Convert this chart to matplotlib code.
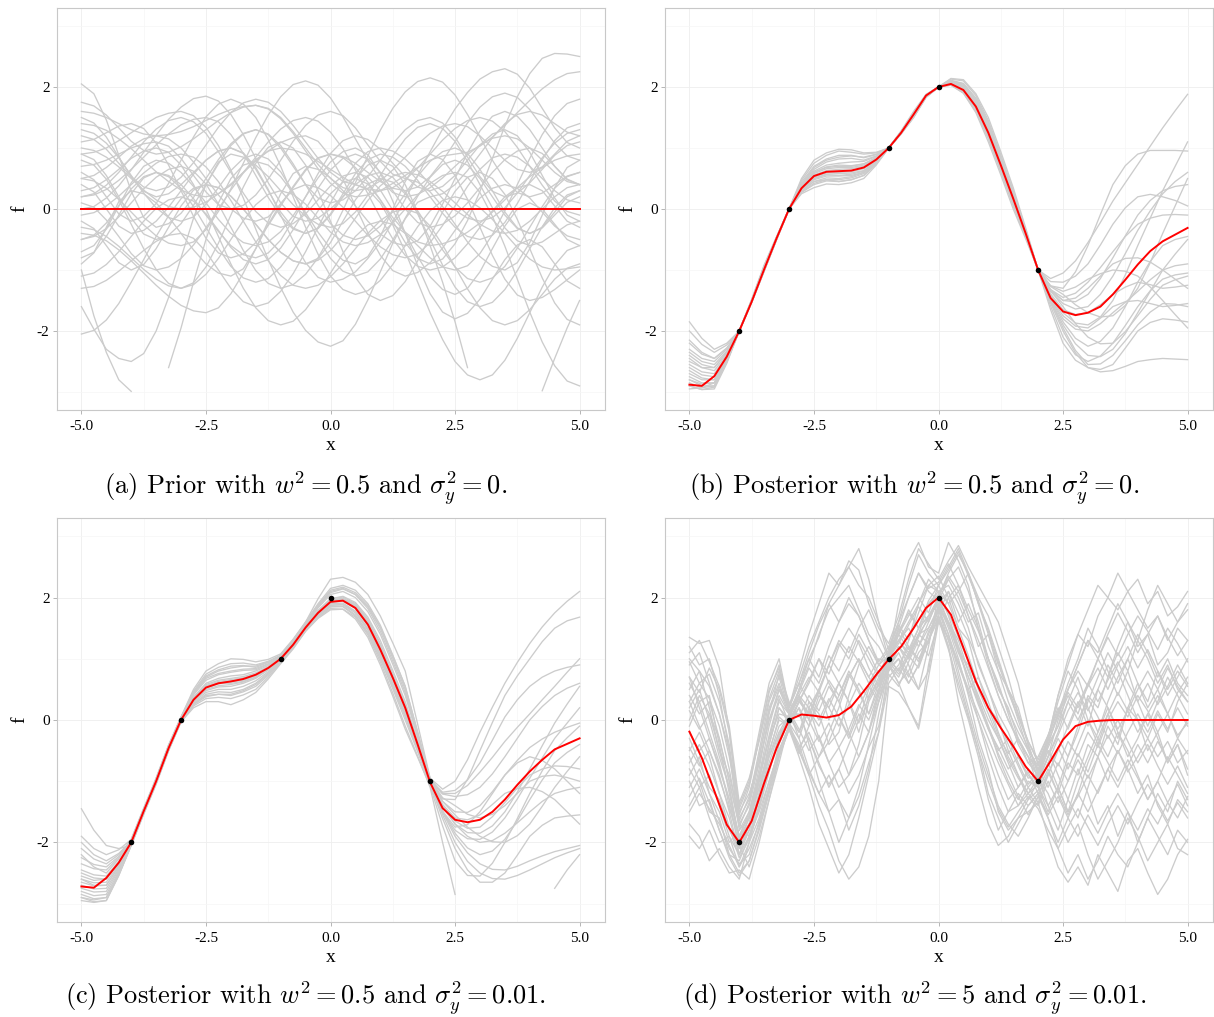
import matplotlib
matplotlib.use("Agg")
import matplotlib.pyplot as plt

plt.rcParams['mathtext.fontset'] = 'cm'
plt.rcParams['axes.unicode_minus'] = False
plt.rcParams['font.family'] = ['Liberation Serif', 'DejaVu Serif']

nan = float('nan')

# ---------------- data ----------------
x_quarter = [-5.0, -4.75, -4.5, -4.25, -4.0, -3.75, -3.5, -3.25, -3.0, -2.75,
             -2.5, -2.25, -2.0, -1.75, -1.5, -1.25, -1.0, -0.75, -0.5, -0.25,
             0.0, 0.25, 0.5, 0.75, 1.0, 1.25, 1.5, 1.75, 2.0, 2.25, 2.5, 2.75,
             3.0, 3.25, 3.5, 3.75, 4.0, 4.25, 4.5, 4.75, 5.0]
x_fifth = [-5.0, -4.8, -4.6, -4.4, -4.2, -4.0, -3.8, -3.6, -3.4, -3.2, -3.0,
           -2.8, -2.6, -2.4, -2.2, -2.0, -1.8, -1.6, -1.4, -1.2, -1.0, -0.8,
           -0.6, -0.4, -0.2, 0.0, 0.2, 0.4, 0.6, 0.8, 1.0, 1.2, 1.4, 1.6, 1.8,
           2.0, 2.2, 2.4, 2.6, 2.8, 3.0, 3.2, 3.4, 3.6, 3.8, 4.0, 4.2, 4.4,
           4.6, 4.8, 5.0]

obs_x = [-4, -3, -1, 0, 2]
obs_y = [-2, 0, 1, 2, -1]

x_ticks = [-5.0, -2.5, 0.0, 2.5, 5.0]
x_tick_labels = ["-5.0", "-2.5", "0.0", "2.5", "5.0"]
y_ticks = [-2, 0, 2]
y_tick_labels = ["-2", "0", "2"]
x_minor = [-3.75, -1.25, 1.25, 3.75]
y_minor = [-3, -1, 1, 3]

captions = [
    r"(a) Prior with $w^2 = 0.5$ and $\sigma_y^2 = 0$.",
    r"(b) Posterior with $w^2 = 0.5$ and $\sigma_y^2 = 0$.",
    r"(c) Posterior with $w^2 = 0.5$ and $\sigma_y^2 = 0.01$.",
    r"(d) Posterior with $w^2 = 5$ and $\sigma_y^2 = 0.01$.",
]

# mean curves (red), on x_quarter
mean_a = [0.0] * 41
mean_b = [-2.88, -2.90, -2.74, -2.42, -2.0, -1.52, -0.99, -0.48, 0.0, 0.34,
          0.54, 0.61, 0.62, 0.63, 0.68, 0.81, 1.0, 1.25, 1.55, 1.86,
          2.0, 2.05, 1.95, 1.68, 1.25, 0.72, 0.17, -0.40, -1.0, -1.46,
          -1.68, -1.74, -1.70, -1.60, -1.40, -1.16, -0.91, -0.69, -0.53, -0.42, -0.31]
mean_c = [-2.72, -2.74, -2.58, -2.33, -2.0, -1.49, -1.0, -0.46, 0.0, 0.33,
          0.53, 0.60, 0.63, 0.67, 0.74, 0.85, 1.0, 1.23, 1.51, 1.75,
          1.93, 1.95, 1.83, 1.56, 1.15, 0.69, 0.2, -0.40, -1.02, -1.44,
          -1.63, -1.67, -1.63, -1.50, -1.30, -1.06, -0.84, -0.65, -0.48, -0.39, -0.30]
mean_d = [-0.19, -0.62, -1.16, -1.71, -2.0, -1.65, -1.03, -0.46, 0.0, 0.09,
          0.07, 0.04, 0.08, 0.22, 0.47, 0.74, 0.99, 1.2, 1.5, 1.83,
          2.0, 1.72, 1.18, 0.63, 0.2, -0.13, -0.43, -0.76, -1.0, -0.67,
          -0.32, -0.10, -0.03, -0.01, 0.0, 0.0, 0.0, 0.0, 0.0, 0.0, 0.0]

# sampled functions (grey); panels a-c on x_quarter, panel d on x_fifth
samples_a = [
    [2.05,1.89,1.46,0.88,0.29,-0.14,-0.3,-0.24,-0.07,0.19,0.5,0.81,1.07,1.24,1.3,1.23,1.04,0.74,0.4,0.06,-0.24,-0.43,-0.5,-0.44,-0.28,-0.04,0.25,0.54,0.78,0.94,1.0,0.91,0.65,0.3,-0.05,-0.31,-0.4,-0.31,-0.1,0.11,0.2],
    [0.5,0.46,0.34,0.16,-0.05,-0.26,-0.44,-0.56,-0.6,-0.54,-0.34,-0.04,0.33,0.75,1.17,1.54,1.84,2.04,2.1,2.03,1.82,1.51,1.15,0.79,0.48,0.27,0.2,0.24,0.35,0.51,0.7,0.89,1.05,1.16,1.2,1.15,1.0,0.8,0.6,0.45,0.4],
    [-0.8,-0.71,-0.45,-0.1,0.25,0.51,0.6,0.53,0.34,0.04,-0.3,-0.64,-0.94,-1.13,-1.2,-1.14,-0.95,-0.68,-0.35,-0.03,0.25,0.44,0.5,0.41,0.15,-0.2,-0.55,-0.81,-0.9,-0.82,-0.57,-0.19,0.29,0.83,1.36,1.84,2.22,2.47,2.55,2.54,2.5],
    [-1.6,-1.97,-2.3,-2.45,-2.5,-2.37,-2.0,-1.45,-0.8,-0.15,0.4,0.77,0.9,0.85,0.72,0.53,0.3,0.07,-0.12,-0.25,-0.3,-0.24,-0.05,0.23,0.55,0.87,1.15,1.34,1.4,1.32,1.11,0.78,0.4,0.02,-0.31,-0.52,-0.6,-0.54,-0.4,-0.26,-0.2],
    [0.9,0.93,1.0,1.12,1.25,1.38,1.5,1.57,1.6,1.53,1.34,1.04,0.64,0.18,-0.33,-0.83,-1.29,-1.69,-1.99,-2.18,-2.25,-2.16,-1.89,-1.49,-1.03,-0.56,-0.16,0.11,0.2,0.25,0.4,0.63,0.9,1.17,1.4,1.55,1.6,1.54,1.4,1.26,1.2],
    [1.2,1.14,0.98,0.75,0.53,0.36,0.3,0.36,0.52,0.76,1.05,1.34,1.58,1.74,1.8,1.75,1.6,1.37,1.1,0.83,0.6,0.45,0.4,0.32,0.1,-0.26,-0.7,-1.2,-1.7,-2.14,-2.5,-2.72,-2.8,-2.72,-2.48,-2.12,-1.7,-1.28,-0.92,-0.68,-0.6],
    [-1.0,-1.75,-2.35,-2.8,-2.99,nan,nan,-2.6,-1.95,-1.2,-0.5,0.1,0.5,0.72,0.78,0.72,0.53,0.26,-0.06,-0.38,-0.65,-0.84,-0.9,-0.78,-0.45,0.0,0.45,0.78,0.9,0.81,0.55,0.16,-0.3,-0.76,-1.15,-1.41,-1.5,-1.45,-1.32,-1.16,-1.0],
    [0.2,0.23,0.32,0.47,0.65,0.85,1.05,1.23,1.38,1.47,1.5,1.43,1.22,0.91,0.55,0.19,-0.12,-0.33,-0.4,-0.32,-0.1,0.2,0.5,0.72,0.8,0.7,0.4,-0.05,-0.6,-1.2,-1.85,-2.6,nan,nan,nan,nan,nan,-2.98,-2.45,-1.95,-1.5],
    [-0.3,-0.34,-0.45,-0.61,-0.8,-0.99,-1.15,-1.26,-1.3,-1.24,-1.07,-0.81,-0.5,-0.19,0.07,0.24,0.3,0.24,0.08,-0.15,-0.38,-0.54,-0.6,-0.55,-0.42,-0.23,0.0,0.23,0.42,0.55,0.6,0.52,0.27,-0.12,-0.61,-1.15,-1.69,-2.18,-2.57,-2.82,-2.9],
    [1.5,1.41,1.18,0.85,0.53,0.29,0.2,0.25,0.4,0.6,0.8,0.95,1.0,0.92,0.68,0.32,-0.1,-0.52,-0.88,-1.12,-1.2,-1.15,-1.03,-0.81,-0.54,-0.21,0.16,0.55,0.94,1.31,1.64,1.91,2.13,2.25,2.3,2.21,1.98,1.65,1.33,1.09,1.0],
    [-0.5,-0.45,-0.32,-0.13,0.1,0.33,0.52,0.65,0.7,0.62,0.41,0.08,-0.3,-0.68,-1.01,-1.22,-1.3,-1.24,-1.07,-0.8,-0.44,-0.02,0.43,0.87,1.29,1.65,1.92,2.09,2.15,2.08,1.87,1.55,1.18,0.8,0.48,0.27,0.2,0.26,0.4,0.54,0.6],
    [0.0,0.04,0.18,0.38,0.64,0.93,1.21,1.47,1.67,1.81,1.85,1.77,1.55,1.22,0.83,0.43,0.1,-0.12,-0.2,-0.15,0.0,0.2,0.4,0.55,0.6,0.52,0.28,-0.08,-0.5,-0.92,-1.28,-1.52,-1.6,-1.53,-1.32,-1.01,-0.65,-0.29,0.02,0.23,0.3],
    [0.6,0.48,0.2,-0.08,-0.2,-0.12,0.09,0.42,0.8,1.18,1.51,1.72,1.8,1.72,1.5,1.14,0.7,0.2,-0.3,-0.74,-1.1,-1.32,-1.4,-1.34,-1.17,-0.91,-0.6,-0.29,-0.03,0.14,0.2,0.15,0.02,-0.17,-0.4,-0.63,-0.82,-0.95,-1.0,-0.98,-0.95],
    [1.6,1.57,1.5,1.4,1.3,1.23,1.2,1.22,1.27,1.35,1.45,1.55,1.63,1.68,1.7,1.64,1.48,1.24,0.95,0.66,0.42,0.26,0.2,0.23,0.3,0.42,0.55,0.68,0.8,0.87,0.9,0.93,1.03,1.18,1.37,1.58,1.78,1.97,2.12,2.22,2.25],
    [-1.3,-1.27,-1.17,-1.02,-0.85,-0.68,-0.53,-0.43,-0.4,-0.48,-0.7,-1.0,-1.3,-1.52,-1.6,-1.54,-1.35,-1.06,-0.7,-0.3,0.1,0.46,0.75,0.94,1.0,0.95,0.82,0.63,0.4,0.17,-0.02,-0.15,-0.2,-0.14,0.02,0.26,0.55,0.84,1.08,1.24,1.3],
    [0.3,0.35,0.48,0.65,0.83,0.95,1.0,0.93,0.72,0.4,0.0,-0.45,-0.9,-1.3,-1.62,-1.83,-1.9,-1.84,-1.65,-1.37,-1.05,-0.73,-0.45,-0.26,-0.2,-0.25,-0.4,-0.6,-0.8,-0.95,-1.0,-0.93,-0.73,-0.42,-0.03,0.4,0.83,1.22,1.53,1.73,1.8],
    [1.1,1.14,1.25,1.36,1.4,1.32,1.08,0.72,0.3,-0.12,-0.48,-0.72,-0.8,-0.74,-0.55,-0.27,0.05,0.37,0.65,0.84,0.9,0.86,0.75,0.6,0.45,0.34,0.3,0.36,0.53,0.79,1.1,1.41,1.67,1.84,1.9,1.83,1.63,1.35,1.08,0.87,0.8],
    [-0.7,-0.6,-0.33,0.05,0.43,0.7,0.8,0.75,0.6,0.37,0.1,-0.17,-0.4,-0.55,-0.6,-0.54,-0.37,-0.11,0.2,0.51,0.77,0.94,1.0,0.89,0.59,0.13,-0.4,-0.93,-1.39,-1.69,-1.8,-1.71,-1.48,-1.15,-0.83,-0.59,-0.5,-0.62,-0.9,-1.18,-1.3],
    [-0.4,-0.43,-0.52,-0.67,-0.85,-1.05,-1.25,-1.43,-1.58,-1.67,-1.7,-1.62,-1.39,-1.05,-0.65,-0.25,0.09,0.32,0.4,0.35,0.22,0.03,-0.2,-0.43,-0.62,-0.75,-0.8,-0.74,-0.55,-0.27,0.05,0.37,0.65,0.84,0.9,0.85,0.7,0.5,0.3,0.15,0.1],
    [0.8,0.72,0.49,0.15,-0.25,-0.65,-0.99,-1.22,-1.3,-1.21,-0.95,-0.56,-0.1,0.36,0.75,1.01,1.1,1.0,0.72,0.3,-0.2,-0.7,-1.12,-1.4,-1.5,-1.42,-1.19,-0.85,-0.45,-0.05,0.29,0.52,0.6,0.5,0.24,-0.17,-0.65,-1.13,-1.54,-1.81,-1.9],
    [1.4,1.37,1.29,1.15,0.99,0.8,0.61,0.45,0.31,0.23,0.2,0.25,0.39,0.6,0.85,1.1,1.31,1.45,1.5,1.44,1.26,0.99,0.64,0.25,-0.14,-0.49,-0.76,-0.94,-1.0,-0.95,-0.8,-0.57,-0.3,-0.03,0.2,0.35,0.4,0.3,0.05,-0.2,-0.3],
    [-0.1,-0.06,0.05,0.21,0.4,0.59,0.75,0.86,0.9,0.85,0.69,0.45,0.14,-0.2,-0.54,-0.85,-1.09,-1.25,-1.3,-1.25,-1.11,-0.9,-0.65,-0.4,-0.19,-0.05,0.0,-0.07,-0.28,-0.59,-0.95,-1.31,-1.62,-1.83,-1.9,-1.83,-1.65,-1.4,-1.15,-0.97,-0.9],
    [0.5,0.55,0.68,0.85,1.03,1.15,1.2,1.15,1.0,0.77,0.5,0.23,0.0,-0.15,-0.2,-0.13,0.08,0.35,0.63,0.83,0.9,0.84,0.68,0.44,0.15,-0.14,-0.38,-0.54,-0.6,-0.57,-0.5,-0.38,-0.23,-0.05,0.15,0.35,0.53,0.68,0.8,0.87,0.9],
    [-2.05,-1.99,-1.82,-1.55,-1.2,-0.83,-0.45,-0.11,0.17,0.34,0.4,0.35,0.21,0.0,-0.25,-0.5,-0.71,-0.85,-0.9,-0.84,-0.68,-0.44,-0.15,0.14,0.38,0.54,0.6,0.56,0.45,0.29,0.1,-0.09,-0.25,-0.36,-0.4,-0.35,-0.2,0.0,0.2,0.35,0.4],
    [1.0,0.96,0.85,0.69,0.5,0.31,0.15,0.04,0.0,0.03,0.11,0.25,0.41,0.6,0.79,0.95,1.09,1.17,1.2,1.11,0.86,0.49,0.05,-0.39,-0.76,-1.01,-1.1,-1.04,-0.88,-0.64,-0.35,-0.06,0.18,0.34,0.4,0.34,0.18,-0.05,-0.28,-0.44,-0.5],
    [0.1,0.03,-0.18,-0.45,-0.73,-0.93,-1.0,-0.95,-0.81,-0.59,-0.31,0.0,0.31,0.59,0.81,0.95,1.0,0.97,0.9,0.78,0.65,0.52,0.4,0.33,0.3,0.35,0.48,0.67,0.9,1.13,1.32,1.45,1.5,1.44,1.27,1.01,0.7,0.39,0.13,-0.04,-0.1],
    [0.9,0.81,0.55,0.2,-0.15,-0.41,-0.5,-0.43,-0.24,0.06,0.4,0.74,1.04,1.23,1.3,1.22,1.0,0.7,0.4,0.18,0.1,0.15,0.3,0.53,0.8,1.07,1.3,1.45,1.5,1.41,1.18,0.85,0.53,0.29,0.2,0.26,0.43,0.65,0.88,1.04,1.1],
    [-0.9,-0.72,-0.3,0.12,0.3,0.25,0.1,-0.13,-0.4,-0.67,-0.9,-1.05,-1.1,-0.98,-0.65,-0.2,0.25,0.58,0.7,0.65,0.51,0.3,0.05,-0.2,-0.41,-0.55,-0.6,-0.52,-0.28,0.08,0.5,0.92,1.28,1.52,1.6,1.52,1.3,1.0,0.7,0.48,0.4],
    [0.2,0.25,0.39,0.6,0.85,1.1,1.31,1.45,1.5,1.43,1.24,0.94,0.6,0.26,-0.04,-0.23,-0.3,-0.24,-0.08,0.15,0.38,0.54,0.6,0.52,0.31,-0.02,-0.4,-0.78,-1.11,-1.32,-1.4,-1.3,-1.03,-0.65,-0.28,0.0,0.1,0.0,-0.25,-0.5,-0.6],
    [-0.5,-0.43,-0.23,0.05,0.33,0.53,0.6,0.55,0.4,0.17,-0.1,-0.37,-0.6,-0.75,-0.8,-0.72,-0.51,-0.18,0.2,0.58,0.91,1.12,1.2,1.14,0.98,0.75,0.53,0.36,0.3,0.37,0.55,0.8,1.05,1.23,1.3,1.2,0.93,0.55,0.18,-0.1,-0.2],
    [1.3,1.24,1.08,0.84,0.55,0.26,0.02,-0.14,-0.2,-0.13,0.08,0.35,0.63,0.83,0.9,0.82,0.61,0.28,-0.1,-0.48,-0.81,-1.02,-1.1,-1.03,-0.82,-0.51,-0.15,0.21,0.52,0.73,0.8,0.72,0.5,0.2,-0.1,-0.32,-0.4,-0.3,-0.05,0.2,0.3],
    [-0.2,-0.32,-0.6,-0.88,-1.0,-0.91,-0.65,-0.3,0.05,0.31,0.4,0.35,0.21,0.0,-0.25,-0.5,-0.71,-0.85,-0.9,-0.81,-0.55,-0.2,0.15,0.41,0.5,0.44,0.25,-0.03,-0.35,-0.67,-0.95,-1.14,-1.2,-1.13,-0.94,-0.64,-0.3,0.04,0.34,0.53,0.6],
    [0.7,0.73,0.8,0.9,1.0,1.07,1.1,1.03,0.83,0.55,0.28,0.07,0.0,0.06,0.23,0.49,0.8,1.11,1.37,1.54,1.6,1.53,1.33,1.05,0.78,0.57,0.5,0.44,0.28,0.04,-0.25,-0.54,-0.78,-0.94,-1.0,-0.88,-0.55,-0.1,0.35,0.68,0.8],
    [-1.1,-1.05,-0.91,-0.7,-0.45,-0.2,0.01,0.15,0.2,0.13,-0.08,-0.35,-0.63,-0.83,-0.9,-0.83,-0.64,-0.34,0.0,0.34,0.64,0.83,0.9,0.82,0.6,0.3,0.0,-0.22,-0.3,-0.25,-0.11,0.1,0.35,0.6,0.81,0.95,1.0,0.91,0.7,0.49,0.4],
    [0.4,0.28,0.0,-0.28,-0.4,-0.35,-0.2,0.03,0.3,0.57,0.8,0.95,1.0,0.91,0.65,0.3,-0.05,-0.31,-0.4,-0.31,-0.08,0.25,0.58,0.81,0.9,0.85,0.7,0.47,0.2,-0.07,-0.3,-0.45,-0.5,-0.43,-0.22,0.09,0.45,0.81,1.12,1.33,1.4],
    [1.75,1.69,1.54,1.33,1.11,0.96,0.9,0.93,1.02,1.15,1.3,1.45,1.58,1.67,1.7,1.65,1.5,1.27,1.0,0.73,0.5,0.35,0.3,0.34,0.46,0.64,0.85,1.06,1.24,1.36,1.4,1.35,1.2,1.0,0.8,0.65,0.6,0.69,0.9,1.11,1.2],
]

samples_b = [
    [-2.3,-2.45,-2.5,-2.30,-2,-1.50,-0.95,-0.47,0,0.47,0.75,0.88,0.95,0.93,0.9,0.92,1,1.25,1.55,1.86,2,2.13,2.1,1.86,1.45,0.89,0.3,-0.34,-1,-1.14,-1.05,-0.85,-0.55,-0.22,0.13,0.43,0.73,1.03,1.33,1.61,1.88],
    [-2.6,-2.72,-2.75,-2.43,-2,-1.52,-1.0,-0.49,0,0.30,0.45,0.48,0.45,0.48,0.55,0.74,1,1.25,1.55,1.86,2,2.03,1.9,1.6,1.15,0.61,0.05,-0.46,-1,-1.26,-1.3,-1.03,-0.6,-0.09,0.4,0.71,0.9,0.96,0.96,0.96,0.95],
    [-2.95,-2.93,-2.85,-2.48,-2,-1.53,-1.02,-0.50,0,0.37,0.6,0.68,0.7,0.70,0.74,0.84,1,1.24,1.52,1.84,2,2.08,2.0,1.76,1.35,0.81,0.25,-0.37,-1,-1.54,-2.0,-2.36,-2.6,-2.67,-2.65,-2.58,-2.5,-2.47,-2.45,-2.46,-2.47],
    [-2.0,-2.22,-2.35,-2.23,-2,-1.49,-0.93,-0.46,0,0.40,0.65,0.77,0.82,0.83,0.8,0.87,1,1.27,1.58,1.87,2,2.1,2.05,1.8,1.4,0.82,0.22,-0.38,-1,-1.5,-1.9,-2.21,-2.4,-2.42,-2.3,-2.04,-1.7,-1.35,-1.0,-0.74,-0.5],
    [-2.8,-2.9,-2.9,-2.5,-2,-1.52,-1.0,-0.49,0,0.27,0.4,0.46,0.45,0.48,0.55,0.74,1,1.23,1.5,1.83,2,2.04,1.92,1.64,1.2,0.66,0.1,-0.44,-1,-1.41,-1.7,-1.87,-1.9,-1.77,-1.5,-1.08,-0.6,-0.15,0.3,0.7,1.1],
    [-2.5,-2.6,-2.6,-2.35,-2,-1.51,-0.98,-0.48,0,0.32,0.5,0.57,0.58,0.59,0.63,0.79,1,1.25,1.55,1.86,2,2.07,1.97,1.7,1.28,0.74,0.18,-0.40,-1,-1.34,-1.5,-1.46,-1.3,-1.1,-0.9,-0.81,-0.8,-0.87,-1.0,-1.15,-1.3],
    [-2.2,-2.38,-2.45,-2.28,-2,-1.50,-0.96,-0.47,0,0.41,0.68,0.80,0.85,0.87,0.85,0.9,1,1.26,1.56,1.86,2,2.09,2.02,1.75,1.32,0.77,0.2,-0.39,-1,-1.34,-1.6,-1.88,-2.1,-2.21,-2.2,-2.01,-1.75,-1.48,-1.25,-1.16,-1.1],
    [-2.9,-2.96,-2.95,-2.53,-2,-1.53,-1.02,-0.50,0,0.25,0.35,0.41,0.4,0.43,0.5,0.72,1,1.23,1.5,1.83,2,2.03,1.9,1.58,1.1,0.56,0.0,-0.49,-1,-1.32,-1.5,-1.52,-1.4,-1.14,-0.8,-0.44,-0.1,0.14,0.3,0.37,0.4],
    [-2.7,-2.8,-2.8,-2.45,-2,-1.52,-1.0,-0.49,0,0.35,0.55,0.63,0.65,0.66,0.7,0.82,1,1.25,1.54,1.85,2,2.07,1.98,1.7,1.27,0.72,0.15,-0.42,-1,-1.47,-1.85,-2.12,-2.25,-2.17,-1.95,-1.6,-1.2,-0.86,-0.6,-0.5,-0.45],
    [-2.4,-2.55,-2.6,-2.35,-2,-1.5,-0.97,-0.47,0,0.36,0.58,0.66,0.68,0.68,0.72,0.83,1,1.26,1.55,1.86,2,2.08,2.0,1.73,1.3,0.76,0.2,-0.39,-1,-1.44,-1.75,-1.92,-1.95,-1.79,-1.6,-1.52,-1.5,-1.55,-1.6,-1.58,-1.55],
    [-1.85,-2.12,-2.3,-2.2,-2,-1.48,-0.92,-0.45,0,0.5,0.8,0.92,0.98,0.97,0.92,0.93,1,1.28,1.6,1.88,2,2.14,2.12,1.89,1.5,0.94,0.35,-0.31,-1,-1.27,-1.4,-1.57,-1.7,-1.77,-1.75,-1.58,-1.3,-0.88,-0.4,0.05,0.5],
    [-2.85,-2.93,-2.9,-2.5,-2,-1.53,-1.01,-0.50,0,0.3,0.45,0.51,0.5,0.53,0.6,0.77,1,1.24,1.52,1.84,2,2.05,1.93,1.64,1.18,0.64,0.08,-0.45,-1,-1.59,-2.1,-2.39,-2.5,-2.41,-2.2,-1.91,-1.6,-1.34,-1.15,-1.08,-1.05],
    [-2.65,-2.77,-2.8,-2.45,-2,-1.51,-0.99,-0.48,0,0.33,0.52,0.59,0.6,0.61,0.66,0.8,1,1.25,1.54,1.85,2,2.06,1.95,1.68,1.24,0.7,0.14,-0.42,-1,-1.19,-1.2,-1.1,-0.9,-0.59,-0.25,0.02,0.2,0.24,0.2,0.14,0.05],
    [-2.75,-2.85,-2.85,-2.48,-2,-1.52,-1.0,-0.49,0,0.32,0.5,0.56,0.55,0.57,0.62,0.78,1,1.25,1.53,1.85,2,2.06,1.96,1.67,1.22,0.68,0.12,-0.43,-1,-1.51,-1.95,-2.32,-2.55,-2.54,-2.4,-2.16,-1.9,-1.69,-1.55,-1.56,-1.6],
    [-2.35,-2.5,-2.55,-2.33,-2,-1.5,-0.96,-0.47,0,0.38,0.62,0.72,0.75,0.77,0.78,0.86,1,1.27,1.57,1.87,2,2.1,2.03,1.78,1.36,0.81,0.24,-0.37,-1,-1.35,-1.55,-1.64,-1.6,-1.4,-1.1,-0.73,-0.35,-0.03,0.25,0.45,0.6],
    [-2.55,-2.67,-2.7,-2.4,-2,-1.51,-0.98,-0.48,0,0.35,0.56,0.62,0.62,0.63,0.68,0.81,1,1.26,1.55,1.86,2,2.07,1.99,1.7,1.26,0.72,0.16,-0.41,-1,-1.39,-1.65,-1.73,-1.7,-1.57,-1.4,-1.28,-1.2,-1.24,-1.3,-1.28,-1.25],
    [-2.9,-2.96,-2.92,-2.51,-2,-1.53,-1.01,-0.5,0,0.28,0.42,0.48,0.48,0.51,0.58,0.76,1,1.24,1.51,1.84,2,2.05,1.94,1.65,1.2,0.66,0.1,-0.44,-1,-1.46,-1.8,-1.97,-2.0,-1.88,-1.7,-1.53,-1.35,-1.16,-1.0,-0.93,-0.9],
    [-2.15,-2.35,-2.45,-2.28,-2,-1.5,-0.95,-0.47,0,0.44,0.7,0.82,0.88,0.88,0.84,0.89,1,1.27,1.57,1.87,2,2.11,2.06,1.82,1.42,0.86,0.28,-0.35,-1,-1.32,-1.45,-1.38,-1.2,-0.96,-0.7,-0.45,-0.25,-0.15,-0.1,-0.09,-0.1],
    [-2.45,-2.6,-2.65,-2.38,-2,-1.5,-0.97,-0.47,0,0.37,0.6,0.69,0.72,0.71,0.74,0.84,1,1.26,1.56,1.86,2,2.08,2.0,1.73,1.3,0.75,0.18,-0.40,-1,-1.65,-2.2,-2.48,-2.6,-2.63,-2.55,-2.28,-2.0,-1.86,-1.8,-1.82,-1.85],
    [-2.8,-2.87,-2.85,-2.48,-2,-1.52,-1.0,-0.49,0,0.31,0.48,0.54,0.54,0.55,0.6,0.77,1,1.25,1.53,1.85,2,2.06,1.95,1.67,1.22,0.68,0.12,-0.43,-1,-1.26,-1.35,-1.28,-1.15,-1.06,-1.0,-1.02,-1.1,-1.28,-1.5,-1.73,-1.95],
]

samples_c = [
    [-1.45,-1.8,-2.05,-2.1,-2.05,-1.49,-0.95,-0.41,0.05,0.5,0.8,0.92,1.0,0.99,0.95,0.99,1.08,1.32,1.6,1.98,2.3,2.33,2.25,2.05,1.7,1.26,0.8,-0.07,-0.95,-1.13,-1.0,-0.65,-0.2,0.21,0.6,0.94,1.25,1.52,1.75,1.94,2.1],
    [-2.2,-2.4,-2.5,-2.27,-1.95,-1.46,-0.98,-0.44,0.02,0.36,0.55,0.6,0.6,0.63,0.7,0.82,0.98,1.22,1.5,1.76,1.95,1.97,1.85,1.6,1.2,0.74,0.25,-0.38,-1.02,-1.29,-1.3,-0.97,-0.5,-0.04,0.4,0.72,1.0,1.28,1.5,1.62,1.68],
    [-2.85,-2.92,-2.9,-2.52,-2.05,-1.54,-1.05,-0.5,-0.02,0.26,0.4,0.42,0.4,0.46,0.55,0.73,0.95,1.18,1.45,1.68,1.85,1.85,1.7,1.42,1.0,0.54,0.05,-0.49,-1.05,-1.61,-2.1,-2.45,-2.65,-2.65,-2.5,-2.21,-1.9,-1.72,-1.6,-1.57,-1.55],
    [-2.55,-2.62,-2.6,-2.34,-2.0,-1.49,-1.0,-0.46,0.0,0.37,0.6,0.68,0.72,0.74,0.8,0.89,1.02,1.25,1.52,1.78,1.98,2.01,1.9,1.65,1.25,0.76,0.25,-0.37,-1.0,-1.42,-1.7,-1.84,-1.85,-1.73,-1.5,-1.18,-0.8,-0.42,-0.05,0.26,0.55],
    [-2.9,-2.97,-2.95,-2.54,-2.05,-1.52,-1.02,-0.49,-0.03,0.2,0.3,0.3,0.25,0.33,0.45,0.67,0.92,1.16,1.45,1.66,1.8,1.81,1.68,1.39,0.95,0.44,-0.1,-0.59,-1.1,-2.0,-2.85,nan,nan,nan,nan,nan,nan,nan,-2.75,-2.45,-2.2],
    [-2.0,-2.2,-2.3,-2.18,-1.98,-1.46,-0.97,-0.43,0.03,0.44,0.7,0.8,0.85,0.88,0.88,0.95,1.05,1.3,1.58,1.87,2.1,2.15,2.05,1.82,1.45,0.96,0.45,-0.26,-0.98,-1.21,-1.25,-1.22,-1.1,-0.88,-0.6,-0.3,0.0,0.22,0.4,0.52,0.6],
    [-2.7,-2.76,-2.75,-2.43,-2.02,-1.51,-1.01,-0.47,-0.01,0.31,0.48,0.54,0.55,0.6,0.68,0.82,0.99,1.23,1.5,1.73,1.9,1.91,1.78,1.5,1.08,0.6,0.1,-0.46,-1.03,-1.49,-1.85,-2.09,-2.2,-2.14,-1.95,-1.65,-1.3,-0.98,-0.7,-0.53,-0.4],
    [-2.35,-2.43,-2.45,-2.25,-1.97,-1.47,-0.98,-0.44,0.02,0.41,0.65,0.74,0.78,0.81,0.82,0.91,1.03,1.27,1.55,1.83,2.05,2.1,2.0,1.77,1.4,0.91,0.4,-0.28,-0.98,-1.33,-1.55,-1.75,-1.9,-1.99,-2.0,-1.89,-1.7,-1.41,-1.1,-0.84,-0.6],
    [-2.8,-2.87,-2.85,-2.48,-2.03,-1.52,-1.03,-0.49,-0.02,0.27,0.42,0.46,0.45,0.5,0.6,0.77,0.97,1.2,1.48,1.71,1.88,1.88,1.75,1.47,1.05,0.59,0.1,-0.47,-1.05,-1.49,-1.75,-1.71,-1.5,-1.2,-0.9,-0.7,-0.6,-0.66,-0.8,-1.0,-1.2],
    [-1.9,-2.1,-2.2,-2.12,-1.95,-1.44,-0.95,-0.41,0.05,0.47,0.75,0.86,0.92,0.93,0.9,0.96,1.06,1.31,1.6,1.9,2.15,2.2,2.12,1.9,1.55,1.06,0.55,-0.2,-0.97,-1.27,-1.4,-1.54,-1.6,-1.54,-1.4,-1.2,-1.0,-0.92,-0.9,-0.94,-1.0],
    [-2.6,-2.7,-2.7,-2.39,-2.0,-1.49,-1.0,-0.46,0.0,0.33,0.52,0.59,0.62,0.65,0.72,0.84,1.0,1.23,1.5,1.74,1.92,1.94,1.82,1.54,1.12,0.65,0.15,-0.43,-1.02,-1.55,-2.0,-2.31,-2.5,-2.59,-2.6,-2.54,-2.45,-2.35,-2.25,-2.17,-2.1],
    [-2.45,-2.53,-2.55,-2.31,-1.98,-1.48,-0.99,-0.45,0.01,0.37,0.58,0.65,0.68,0.71,0.77,0.87,1.01,1.25,1.53,1.79,1.98,2.02,1.92,1.68,1.3,0.81,0.3,-0.34,-0.99,-1.18,-1.15,-0.98,-0.7,-0.33,0.05,0.33,0.55,0.7,0.8,0.86,0.9],
    [-2.95,-2.98,-2.95,-2.54,-2.04,-1.53,-1.04,-0.5,-0.03,0.23,0.35,0.37,0.35,0.41,0.5,0.7,0.94,1.18,1.46,1.67,1.82,1.81,1.65,1.35,0.9,0.39,-0.15,-0.61,-1.08,-1.73,-2.3,-2.54,-2.55,-2.34,-2.0,-1.61,-1.2,-0.83,-0.5,-0.29,-0.1],
    [-2.65,-2.71,-2.7,-2.4,-2.01,-1.5,-1.0,-0.46,0.0,0.32,0.5,0.56,0.58,0.62,0.7,0.83,1.0,1.24,1.51,1.76,1.94,1.97,1.85,1.59,1.18,0.71,0.22,-0.38,-1.0,-1.38,-1.6,-1.63,-1.55,-1.38,-1.2,-1.12,-1.1,-1.17,-1.3,-1.5,-1.7],
    [-2.25,-2.36,-2.4,-2.23,-1.97,-1.46,-0.97,-0.43,0.03,0.43,0.68,0.76,0.8,0.83,0.84,0.92,1.04,1.28,1.56,1.85,2.08,2.14,2.05,1.85,1.5,1.01,0.5,-0.23,-0.97,-1.33,-1.5,-1.51,-1.4,-1.17,-0.9,-0.66,-0.45,-0.31,-0.2,-0.12,-0.05],
    [-2.75,-2.81,-2.8,-2.45,-2.02,-1.51,-1.02,-0.48,-0.01,0.29,0.45,0.5,0.5,0.55,0.64,0.79,0.98,1.21,1.48,1.71,1.87,1.89,1.77,1.48,1.05,0.58,0.08,-0.47,-1.04,-1.51,-1.9,-2.17,-2.35,-2.44,-2.45,-2.39,-2.3,-2.22,-2.15,-2.1,-2.05],
    [-2.5,-2.58,-2.6,-2.34,-1.99,-1.48,-0.99,-0.46,0.0,0.35,0.56,0.63,0.66,0.69,0.75,0.86,1.0,1.24,1.52,1.77,1.96,1.99,1.88,1.62,1.22,0.72,0.2,-0.39,-1.0,-1.41,-1.7,-1.9,-2.0,-1.97,-1.85,-1.68,-1.5,-1.33,-1.2,-1.14,-1.1],
    [-2.1,-2.27,-2.35,-2.2,-1.96,-1.45,-0.96,-0.42,0.04,0.45,0.72,0.82,0.88,0.89,0.86,0.94,1.05,1.3,1.58,1.88,2.12,2.17,2.08,1.87,1.52,1.05,0.55,-0.2,-0.96,-1.2,-1.2,-1.07,-0.85,-0.61,-0.35,-0.12,0.1,0.33,0.55,0.78,1.0],
    [-2.9,-2.94,-2.9,-2.51,-2.03,-1.52,-1.02,-0.48,-0.02,0.25,0.38,0.42,0.42,0.48,0.58,0.75,0.96,1.2,1.47,1.69,1.85,1.86,1.72,1.43,1.0,0.51,0.0,-0.52,-1.06,-1.49,-1.8,-1.94,-1.95,-1.83,-1.6,-1.29,-0.95,-0.62,-0.3,-0.05,0.2],
    [-2.6,-2.66,-2.65,-2.37,-2.0,-1.49,-1.0,-0.46,0.0,0.34,0.54,0.61,0.64,0.67,0.74,0.85,1.0,1.24,1.51,1.76,1.95,1.98,1.87,1.61,1.2,0.71,0.2,-0.4,-1.01,-1.4,-1.65,-1.77,-1.75,-1.58,-1.35,-1.11,-0.9,-0.8,-0.75,-0.76,-0.8],
]

samples_d = [
    [1.35,1.25,1.3,0.85,-0.2,-1.55,-1.1,-0.3,0.5,0.85,0.2,0.6,1.0,1.35,1.9,2.2,2.6,2.45,1.9,1.5,1.25,1.7,2.3,2.8,2.55,2.3,2.6,2.85,2.5,2.2,1.9,1.6,1.1,0.6,-0.1,-0.75,-0.3,0.4,1.0,1.4,1.2,1.7,2.0,1.8,2.1,2.3,1.9,2.1,1.7,1.85,2.1],
    [-1.9,-2.1,-1.8,-2.2,-2.5,-2.45,-2.6,-2.0,-1.3,-0.6,-0.15,-0.5,-0.9,-1.4,-1.8,-2.3,-2.6,-2.4,-1.9,-1.0,0.55,0.45,0.2,-0.1,0.9,1.65,1.2,0.3,-0.4,-1.1,-1.7,-2.05,-1.9,-1.6,-1.5,-1.35,-1.9,-2.4,-2.65,-2.4,-2.7,-2.2,-2.5,-2.8,-2.3,-2.1,-2.5,-2.85,-2.6,-2.2,-1.95],
    [0.6,0.3,0.4,-0.4,-1.2,-1.9,-1.5,-0.9,-0.3,0.1,0.05,-0.2,0.3,0.1,-0.4,-0.2,0.4,0.9,1.2,0.9,1.05,1.3,1.6,1.9,2.2,2.1,1.9,1.5,1.3,0.7,0.3,-0.2,-0.6,-0.9,-1.2,-1.05,-0.7,-0.3,-0.6,-0.1,0.4,0.2,0.7,1.1,0.8,1.3,1.0,0.6,0.9,0.5,0.3],
    [-0.6,-1.0,-1.5,-1.6,-2.2,-2.3,-1.9,-1.5,-1.0,-0.5,-0.1,0.3,0.1,0.5,0.9,1.3,1.1,1.5,1.8,1.4,1.0,0.8,1.1,1.4,1.5,1.8,1.4,0.9,0.5,0.7,0.2,0.0,-0.5,-0.9,-1.3,-1.15,-0.8,-1.2,-0.7,-0.9,-0.4,-0.6,-0.1,-0.4,0.2,0.0,-0.5,-0.2,-0.7,-0.4,-0.9],
    [1.0,0.8,0.2,-0.5,-0.9,-1.6,-1.3,-0.5,0.3,0.7,0.15,-0.3,-0.8,-1.2,-1.5,-1.3,-1.8,-1.4,-0.8,0.1,0.85,1.2,1.0,1.4,1.9,2.1,1.7,1.2,0.6,0.0,-0.6,-1.1,-1.5,-1.4,-1.1,-0.9,-0.4,-0.1,0.5,0.9,1.3,1.1,1.5,1.9,1.6,1.2,1.4,0.9,1.1,1.5,1.3],
    [-1.4,-1.1,-1.6,-2.0,-1.9,-2.4,-2.1,-1.7,-1.1,-0.4,0.0,0.5,1.0,0.7,1.2,1.6,1.9,1.7,1.3,0.9,0.8,1.2,0.9,0.5,0.8,1.75,2.1,1.6,1.9,1.5,1.0,0.6,0.1,-0.4,-0.7,-0.9,-1.4,-1.8,-1.3,-1.6,-1.1,-0.6,-1.0,-0.5,-0.8,-1.2,-0.9,-1.4,-1.7,-1.3,-1.5],
    [0.3,-0.1,-0.5,-0.9,-1.5,-2.2,-1.8,-1.2,-0.4,0.2,-0.05,-0.5,-0.1,0.4,0.2,0.6,0.3,-0.2,0.4,0.8,0.95,1.5,2.0,2.4,2.1,1.95,2.3,2.5,2.1,1.6,1.0,0.5,0.2,-0.3,-0.6,-0.95,-0.5,-0.9,-1.3,-0.8,-1.2,-1.7,-1.4,-1.9,-1.5,-2.0,-1.6,-1.2,-1.5,-1.0,-1.3],
    [-0.9,-0.6,-1.2,-1.5,-2.0,-1.8,-1.6,-1.0,-0.6,-0.2,0.1,0.4,0.2,-0.3,-0.7,-1.1,-0.9,-0.4,0.3,0.6,1.1,1.3,1.1,1.5,1.7,1.9,1.5,1.0,0.4,-0.3,-0.8,-1.5,-1.8,-1.6,-1.3,-1.0,-0.6,0.0,0.4,0.1,0.6,1.0,0.7,1.2,1.6,1.3,1.8,2.2,1.9,1.6,1.8],
    [0.0,0.4,0.1,-0.3,-1.0,-1.7,-1.9,-1.4,-0.8,-0.3,0.1,0.5,0.9,1.4,1.8,2.0,2.2,1.8,1.4,1.2,0.9,0.6,0.2,-0.15,0.7,1.6,2.0,2.2,1.7,1.2,1.4,0.9,0.5,0.2,-0.4,-0.85,-0.3,0.3,0.8,0.5,0.0,-0.4,0.1,-0.3,0.2,0.6,0.3,0.8,0.4,0.7,1.0],
    [-1.7,-1.9,-2.3,-2.1,-2.4,-2.6,-2.0,-1.6,-1.0,-0.5,-0.1,0.2,-0.4,-1.0,-1.5,-2.0,-1.6,-1.1,-0.4,0.3,0.8,1.0,0.6,0.9,1.4,1.8,1.3,0.7,0.1,-0.5,-1.2,-1.6,-2.0,-1.7,-1.4,-1.2,-1.6,-2.1,-2.5,-2.2,-2.6,-2.3,-1.9,-2.2,-2.4,-2.0,-1.6,-1.9,-2.2,-1.8,-2.0],
    [1.2,0.9,1.0,0.4,-0.5,-1.4,-1.0,-0.2,0.6,1.0,0.2,0.7,1.2,1.6,2.0,2.3,2.5,2.2,2.0,1.6,1.15,1.6,2.2,2.7,2.4,2.2,2.5,2.8,2.4,2.0,1.7,1.2,0.7,0.1,-0.4,-0.9,-0.3,0.4,0.9,1.4,1.8,2.2,2.0,2.4,2.1,1.8,1.5,1.7,1.3,1.6,1.9],
    [-0.3,-0.7,-1.1,-1.3,-1.8,-2.1,-1.7,-1.1,-0.5,0.0,-0.1,-0.4,-0.9,-0.6,-0.2,0.2,0.7,1.0,0.7,1.0,0.95,1.4,1.8,1.5,1.7,2.0,1.6,1.1,0.9,0.3,-0.1,-0.6,-1.0,-1.3,-1.0,-1.1,-1.5,-1.1,-0.6,-0.2,0.3,0.7,1.1,0.8,0.4,0.0,-0.3,0.1,-0.2,0.3,0.6],
    [0.7,0.2,-0.3,-0.8,-1.3,-1.9,-1.7,-1.3,-0.7,-0.2,-0.05,0.3,0.6,1.0,0.6,0.3,-0.2,-0.6,-0.2,0.5,1.05,1.3,1.5,1.2,1.6,2.0,2.4,2.7,2.4,1.9,1.4,0.8,0.5,0.0,-0.5,-0.95,-1.2,-1.6,-2.0,-1.7,-2.2,-2.6,-2.3,-2.0,-1.6,-1.9,-2.3,-2.0,-1.7,-2.1,-2.2],
    [-1.0,-1.4,-1.3,-1.8,-2.2,-2.5,-2.3,-1.8,-1.2,-0.6,-0.15,-0.6,-1.1,-1.7,-2.1,-2.5,-2.2,-1.6,-0.9,-0.2,0.85,1.0,0.7,1.1,1.3,1.7,1.2,0.5,0.0,-0.6,-1.3,-1.8,-1.5,-1.2,-1.4,-1.2,-0.9,-0.5,-0.1,0.3,-0.1,0.5,0.9,0.6,1.0,1.4,1.1,0.7,1.0,0.6,0.4],
    [0.2,0.5,0.0,-0.6,-1.1,-2.0,-1.6,-0.9,-0.1,0.5,0.2,0.8,1.4,1.9,2.4,2.2,2.5,2.8,2.3,1.6,1.0,1.9,2.6,2.9,2.5,2.4,2.9,2.6,2.2,1.5,0.9,0.4,0.0,-0.3,-0.6,-0.8,-0.4,0.1,0.6,1.0,1.5,1.2,0.8,0.4,0.8,0.3,-0.1,0.3,0.7,0.4,0.1],
    [-0.5,-0.2,-0.6,-1.2,-1.6,-2.2,-1.9,-1.3,-0.6,-0.1,0.05,0.1,-0.3,-0.7,-1.1,-0.8,-0.4,0.0,0.5,0.8,0.9,0.6,0.8,1.2,1.5,1.85,1.4,0.8,0.2,-0.4,-0.9,-1.4,-1.7,-1.9,-1.6,-1.25,-1.6,-2.0,-1.6,-1.2,-0.7,-0.3,-0.6,-0.2,-0.5,-0.9,-1.3,-1.0,-0.6,-0.9,-1.2],
    [0.9,1.1,0.6,0.1,-0.6,-1.5,-1.2,-0.7,0.0,0.4,0.1,0.4,0.0,0.5,0.9,0.6,0.9,1.3,1.0,0.7,1.1,1.5,1.2,1.0,1.3,1.8,1.6,1.3,0.8,0.4,0.0,-0.3,-0.7,-1.1,-0.8,-1.0,-0.6,-0.2,0.3,0.7,0.2,-0.2,0.3,0.7,1.0,0.6,0.2,0.5,0.1,-0.3,0.0],
    [-0.1,0.3,-0.2,-0.7,-1.4,-2.05,-2.4,-1.9,-1.3,-0.7,-0.05,-0.3,0.2,0.5,0.0,0.4,0.8,0.5,0.1,0.6,1.0,0.8,1.3,1.9,2.3,2.1,2.2,1.9,1.5,0.9,0.5,0.1,-0.2,-0.6,-0.9,-1.1,-0.7,-1.1,-1.5,-1.0,-0.6,-0.2,0.2,-0.2,-0.6,-0.3,0.1,-0.3,-0.7,-0.4,-0.8],
    [-0.8,-1.1,-0.9,-1.4,-1.9,-2.2,-1.7,-1.0,-0.3,0.3,0.1,0.35,0.1,0.45,0.2,-0.1,0.25,0.6,0.35,0.7,0.9,1.2,1.0,1.35,1.7,1.9,1.55,1.1,0.7,0.25,-0.15,-0.45,-0.8,-0.6,-0.95,-0.9,-0.5,-0.75,-0.35,-0.6,-0.2,-0.45,0.0,0.3,0.05,0.4,0.15,-0.2,0.1,-0.25,-0.05],
    [0.4,0.1,0.3,-0.3,-1.0,-1.75,-1.35,-0.6,0.2,0.6,0.15,-0.15,-0.5,-0.25,-0.7,-0.45,-0.9,-0.6,-0.2,0.4,0.85,1.1,0.75,0.5,1.2,2.05,2.3,2.0,1.6,1.75,1.2,0.8,0.3,-0.1,-0.45,-0.8,-1.1,-0.7,-1.0,-0.55,-0.85,-0.4,-0.7,-1.0,-0.65,-0.95,-1.3,-1.0,-1.35,-1.05,-1.4],
    [-1.5,-1.2,-1.45,-1.7,-2.05,-2.4,-2.0,-1.4,-0.8,-0.3,0.05,0.4,0.7,0.45,0.9,1.25,1.0,1.4,1.1,0.75,1.1,1.4,1.7,2.0,1.75,2.2,1.9,2.1,1.7,1.3,0.85,0.4,0.0,-0.35,-0.6,-1.1,-1.4,-1.1,-1.5,-1.25,-0.9,-1.2,-0.8,-0.5,-0.85,-0.6,-0.3,-0.6,-0.35,-0.7,-0.5],
    [0.5,0.8,0.55,0.1,-0.5,-1.8,-1.5,-0.8,0.1,0.75,0.25,0.6,0.3,0.0,0.35,0.05,-0.3,0.1,-0.2,0.3,0.95,1.4,1.15,1.5,1.9,2.05,2.35,2.1,2.4,1.9,1.5,1.0,0.5,0.1,-0.35,-0.7,-0.3,0.1,0.45,0.2,0.55,0.85,0.5,0.9,1.2,0.85,1.15,0.8,0.5,0.8,0.55],
    [-0.2,-0.5,-0.3,-0.75,-1.3,-2.1,-1.8,-1.2,-0.55,0.05,-0.1,-0.55,-0.3,-0.75,-1.05,-0.8,-1.2,-0.9,-0.45,-0.1,0.7,0.9,1.2,0.95,1.45,1.7,1.3,0.9,0.45,0.0,-0.45,-0.9,-1.3,-1.1,-0.85,-1.2,-1.55,-1.25,-1.6,-1.9,-1.55,-1.85,-1.5,-1.2,-1.5,-1.8,-1.45,-1.7,-1.35,-1.6,-1.25],
    [0.95,0.6,0.75,0.3,-0.4,-1.65,-1.25,-0.6,0.15,0.55,0.15,0.45,0.85,0.6,1.05,0.8,1.2,0.95,0.6,0.9,1.15,1.55,1.3,1.75,2.2,2.35,2.0,1.5,1.05,0.55,0.2,-0.25,-0.55,-0.3,-0.7,-0.6,-0.25,0.15,0.5,0.8,0.55,1.0,1.35,1.05,1.4,1.7,1.45,1.15,1.5,1.25,0.95],
    [-1.1,-0.8,-1.2,-1.65,-2.1,-2.35,-2.2,-1.65,-1.1,-0.5,-0.1,-0.45,-0.2,-0.6,-0.35,0.05,-0.25,0.2,0.55,0.3,0.75,0.55,0.95,1.3,1.05,1.6,1.35,0.95,0.5,0.1,-0.3,-0.7,-1.05,-1.4,-1.2,-1.4,-1.0,-1.35,-1.0,-0.65,-0.95,-0.6,-0.25,-0.55,-0.2,0.1,-0.2,0.15,-0.15,0.2,-0.1],
    [0.15,-0.15,0.1,-0.5,-1.1,-1.95,-1.6,-1.1,-0.4,0.2,0.0,0.3,0.65,1.0,0.75,1.2,1.5,1.25,0.85,0.55,1.0,1.3,1.05,1.4,1.25,1.9,2.1,1.75,1.35,0.95,0.5,0.0,-0.4,-0.75,-1.1,-1.35,-0.9,-0.45,-0.8,-0.4,0.0,-0.3,0.1,0.45,0.15,0.5,0.8,0.5,0.85,0.55,0.3],
    [-0.45,-0.75,-0.5,-0.95,-1.45,-1.9,-1.55,-0.95,-0.25,0.35,-0.05,0.2,-0.1,0.3,0.65,0.4,0.75,0.45,0.1,0.5,0.9,0.7,1.05,0.85,1.3,1.85,1.6,1.2,0.8,0.35,-0.1,-0.5,-0.3,-0.7,-1.05,-0.85,-0.45,-0.1,0.3,0.0,0.35,0.05,-0.3,0.0,-0.35,-0.7,-0.4,-0.75,-1.05,-0.75,-1.1],
    [0.7,0.45,0.85,0.5,-0.2,-1.45,-1.05,-0.3,0.45,0.9,0.2,0.6,1.1,1.55,1.9,1.6,2.0,1.7,1.3,0.95,1.2,1.6,2.0,2.4,2.15,2.25,2.55,2.2,1.8,1.45,1.0,0.55,0.15,-0.2,-0.5,-0.75,-0.35,0.05,0.5,0.9,1.3,1.0,1.4,1.75,1.45,1.1,1.4,1.7,1.35,1.05,1.3],
    [-1.25,-0.95,-1.35,-1.8,-2.25,-2.55,-2.3,-1.75,-1.15,-0.55,-0.15,-0.5,-0.85,-1.2,-0.9,-1.3,-1.6,-1.25,-0.7,-0.2,0.6,0.85,0.6,0.9,1.3,1.65,1.15,0.6,0.05,-0.5,-1.0,-1.45,-1.75,-1.5,-1.25,-1.45,-1.8,-2.1,-1.75,-1.45,-1.75,-2.05,-1.7,-1.4,-1.7,-1.35,-1.05,-1.35,-1.65,-1.35,-1.6],
    [0.3,0.6,0.35,-0.1,-0.8,-1.7,-1.4,-0.7,0.0,0.5,0.1,-0.2,0.15,-0.1,0.3,0.6,0.3,-0.05,0.35,0.65,1.0,1.25,1.55,1.85,1.6,2.0,1.75,1.35,0.95,0.5,0.1,-0.3,-0.65,-0.95,-1.2,-0.95,-0.6,-0.25,0.15,0.45,0.15,0.5,0.2,-0.15,0.15,-0.2,0.1,0.4,0.1,0.45,0.7],
    [-0.7,-0.4,-0.75,-1.2,-1.75,-2.25,-1.95,-1.45,-0.85,-0.25,0.05,0.35,0.0,-0.35,-0.05,-0.45,-0.15,0.25,0.0,0.45,0.95,0.75,1.05,1.4,1.65,1.95,1.6,1.15,0.7,0.3,-0.15,-0.55,-0.9,-1.25,-1.55,-1.25,-0.85,-1.2,-1.55,-1.2,-1.5,-1.15,-0.8,-1.1,-0.75,-0.4,-0.7,-0.35,-0.65,-0.3,-0.55],
    [1.1,1.3,0.95,0.55,-0.1,-1.35,-0.95,-0.35,0.35,0.8,0.3,0.05,0.4,0.15,0.55,0.3,0.7,1.0,0.7,0.45,1.1,1.45,1.75,1.5,1.95,2.2,2.45,2.75,2.35,1.95,1.45,0.95,0.45,0.05,-0.35,-0.65,-0.25,0.2,-0.15,0.25,0.6,0.3,0.65,0.95,0.6,0.3,0.6,0.25,0.55,0.9,0.6],
]

# ---------------- layout ----------------
W, H = 1214, 1017
fig = plt.figure(figsize=(W / 100, H / 100), dpi=100)


def rect(left, top, right, bottom):
    return [left / W, 1 - bottom / H, (right - left) / W, (bottom - top) / H]


panels = [
    dict(rect=rect(56.5, 7.7, 604.5, 410.3), gx=x_quarter, samples=samples_a, mean=mean_a, obs=False),
    dict(rect=rect(664.5, 7.7, 1212.5, 410.3), gx=x_quarter, samples=samples_b, mean=mean_b, obs=True),
    dict(rect=rect(56.5, 518, 604.5, 922), gx=x_quarter, samples=samples_c, mean=mean_c, obs=True),
    dict(rect=rect(664.5, 518, 1212.5, 922), gx=x_fifth, samples=samples_d, mean=mean_d, obs=True),
]
caption_pos = [(305.5, 488), (914.5, 488), (305.5, 998), (914.5, 998)]

for p, cap, (cx, cy) in zip(panels, captions, caption_pos):
    ax = fig.add_axes(p["rect"])
    for s in p["samples"]:
        ax.plot(p["gx"], s, color="#CCCCCC", lw=0.95, zorder=2, solid_joinstyle="round")
    ax.plot(x_quarter, p["mean"], color="#FF0000", lw=1.4, zorder=3)
    if p["obs"]:
        ax.scatter(obs_x, obs_y, s=16, color="black", zorder=4, linewidths=0)
    ax.set_xlim(-5.5, 5.5)
    ax.set_ylim(-3.3, 3.3)
    ax.set_xticks(x_ticks)
    ax.set_xticklabels(x_tick_labels)
    ax.set_yticks(y_ticks)
    ax.set_yticklabels(y_tick_labels)
    ax.set_xticks(x_minor, minor=True)
    ax.set_yticks(y_minor, minor=True)
    ax.grid(which="major", color="#EEEEEE", lw=0.6)
    ax.grid(which="minor", color="#F6F6F6", lw=0.5)
    ax.set_axisbelow(True)
    ax.tick_params(which="minor", length=0)
    ax.tick_params(which="major", length=3, width=0.6, color="#AAAAAA",
                   labelsize=11, labelcolor="black")
    ax.tick_params(axis="x", pad=4)
    ax.tick_params(axis="y", pad=2)
    for sp in ax.spines.values():
        sp.set_color("#C8C8C8")
        sp.set_linewidth(0.8)
    ax.set_xlabel("x", fontsize=14, labelpad=3)
    ax.set_ylabel("f", fontsize=14, labelpad=6)
    fig.text(cx / W, 1 - cy / H, cap, ha="center", va="center",
             fontsize=19, family="cmr10")

fig.savefig("out.png", dpi=100)
